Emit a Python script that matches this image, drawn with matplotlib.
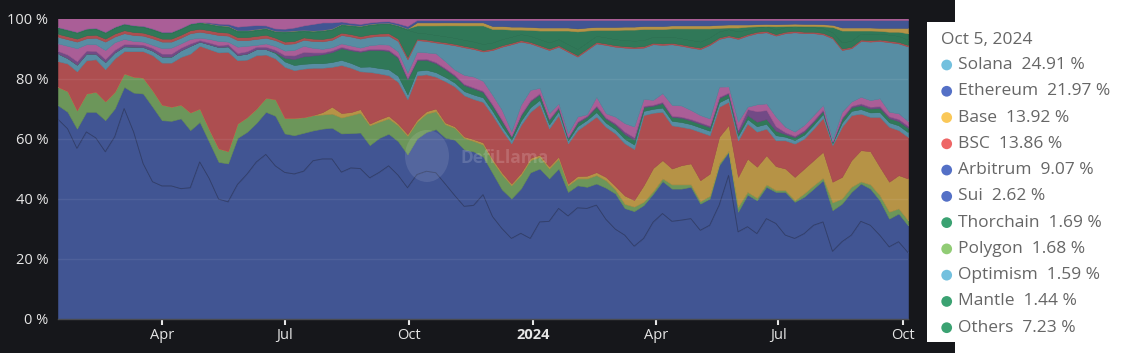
"""
DEX volume share by chain (100% stacked), DefiLlama style, dark theme.
"""

import numpy as np
import pandas as pd
import matplotlib
matplotlib.use("Agg")
import matplotlib.pyplot as plt
from matplotlib.colors import to_rgb
from matplotlib.patches import Rectangle, Ellipse

plt.rcParams["font.family"] = ["Open Sans", "DejaVu Sans"]

# ── Data: weekly share by chain (%), Jan 14 2023 -> Oct 5 2024 ────────
dates = pd.date_range("2023-01-14", periods=91, freq="7D")

ethereum = [66.4, 63.3, 56.7, 62.2, 60.2, 55.6, 60.6, 70.0, 62.2, 51.7,
            45.6, 44.2, 44.2, 43.3, 43.6, 52.2, 46.7, 39.8, 38.9, 44.7,
            48.1, 52.2, 54.7, 50.9, 48.7, 48.2, 49.1, 52.6, 53.2, 53.2,
            48.8, 50.2, 50.0, 46.9, 48.7, 50.9, 47.8, 43.6, 48.0, 49.1,
            48.6, 45.3, 41.3, 37.4, 37.8, 41.3, 34.0, 30.0, 26.7, 28.4,
            26.7, 32.2, 32.4, 36.7, 34.2, 36.9, 36.7, 37.8, 33.1, 29.8,
            27.8, 24.1, 26.7, 32.2, 35.0, 32.4, 32.8, 33.3, 29.4, 31.1,
            37.8, 47.8, 28.9, 30.6, 28.3, 33.3, 31.7, 27.8, 26.7, 28.3,
            31.1, 32.2, 22.4, 25.6, 27.8, 32.4, 31.1, 27.8, 23.9, 25.6,
            21.97]
arbitrum = [4.7, 5.6, 6.6, 6.7, 8.7, 10.5, 9.4, 7.2, 13.1, 23.3,
            25.0, 21.9, 21.7, 23.4, 19.2, 13.3, 12.2, 12.4, 12.8, 15.5,
            14.1, 13.0, 14.2, 16.7, 13.0, 12.9, 12.8, 10.1, 10.1, 10.4,
            12.9, 11.6, 12.0, 10.9, 11.5, 10.7, 11.3, 11.1, 12.0, 13.1,
            14.5, 15.6, 18.7, 19.0, 18.0, 12.7, 14.5, 13.0, 13.3, 14.9,
            22.0, 17.8, 14.3, 13.3, 8.0, 7.5, 7.2, 7.2, 10.5, 11.9,
            9.0, 11.7, 11.1, 9.5, 10.8, 10.9, 10.5, 10.6, 8.9, 8.9,
            13.3, 7.8, 6.7, 10.7, 11.1, 10.6, 10.5, 14.4, 12.2, 12.3,
            12.2, 13.9, 13.7, 12.7, 14.4, 12.6, 12.2, 11.6, 9.4, 9.4,
            9.07]
polygon = [6.1, 6.9, 6.1, 6.1, 6.7, 6.3, 5.6, 4.5, 5.3, 5.3,
           5.5, 5.2, 4.7, 4.6, 5.9, 4.5, 4.2, 4.5, 4.1, 4.8,
           4.9, 4.8, 4.7, 5.5, 5.2, 5.8, 5.2, 5.1, 4.7, 4.7,
           5.3, 6.0, 6.6, 6.6, 5.4, 5.1, 5.3, 6.2, 5.6, 6.1,
           6.0, 4.5, 4.0, 3.8, 3.5, 4.0, 4.0, 5.0, 4.4, 4.5,
           4.1, 3.9, 3.3, 3.3, 2.2, 2.3, 2.8, 2.8, 2.5, 1.3,
           1.4, 1.5, 1.1, 0.8, 0.9, 1.4, 1.4, 0.8, 0.8, 0.9,
           0.6, 0.4, 1.6, 0.9, 0.8, 0.8, 0.6, 0.6, 0.5, 1.1,
           1.1, 0.8, 2.6, 1.7, 1.7, 0.7, 1.4, 1.7, 2.3, 1.7,
           1.68]
base = [0, 0, 0, 0, 0, 0, 0, 0, 0, 0,
        0, 0, 0, 0, 0, 0, 0, 0, 0, 0,
        0, 0, 0, 0, 0, 0, 0, 0, 0.8, 2.3,
        1.5, 1.0, 1.2, 0.6, 0.8, 0.9, 0.6, 0.6, 0.7, 0.8,
        0.9, 0.6, 0.5, 0.5, 0.6, 0.7, 0.7, 0.7, 0.6, 0.7,
        0.7, 0.7, 0.7, 0.7, 0.6, 0.8, 0.9, 1.0, 1.1, 1.2,
        2.8, 2.2, 5.5, 7.8, 6.1, 5.3, 6.4, 7.0, 7.0, 7.4,
        8.9, 8.6, 10.0, 11.1, 10.4, 9.7, 8.0, 7.2, 7.8, 8.3,
        8.4, 8.7, 6.9, 7.2, 8.9, 10.4, 11.1, 9.5, 10.0, 11.1,
        13.92]
bsc = [8.6, 9.2, 13.0, 11.1, 10.8, 10.7, 11.1, 7.4, 8.5, 8.8,
       11.7, 14.0, 14.7, 15.9, 19.6, 20.9, 26.7, 32.0, 33.1, 21.1,
       19.2, 17.8, 14.4, 13.6, 17.0, 15.9, 16.2, 15.8, 14.8, 13.3,
       16.0, 14.8, 12.6, 17.2, 15.3, 13.5, 13.9, 11.6, 14.8, 12.3,
       10.6, 13.9, 13.4, 13.7, 13.4, 13.5, 14.6, 14.1, 13.4, 16.0,
       15.4, 16.8, 12.7, 13.8, 13.4, 15.3, 17.4, 18.5, 16.7, 17.5,
       17.4, 17.0, 23.4, 18.5, 16.1, 14.4, 12.8, 11.6, 16.1, 12.8,
       10.0, 7.8, 12.2, 11.7, 11.7, 8.9, 8.6, 9.4, 11.1, 10.0,
       10.5, 11.3, 12.2, 16.7, 15.0, 12.2, 11.4, 16.6, 18.3, 15.0,
       13.86]
optimism = [2.5, 1.8, 2.2, 2.2, 1.8, 2.4, 2.0, 1.6, 1.5, 1.4,
            1.5, 2.0, 2.0, 2.2, 2.6, 1.4, 1.6, 1.8, 1.8, 1.7,
            2.0, 2.0, 1.8, 1.8, 1.8, 1.7, 1.6, 1.5, 1.5, 1.6,
            1.7, 1.6, 1.5, 1.8, 1.8, 2.0, 2.0, 1.6, 1.5, 1.5,
            1.5, 1.4, 1.3, 1.4, 1.5, 1.5, 1.4, 1.3, 1.2, 1.4,
            1.5, 1.5, 1.3, 1.4, 1.0, 1.3, 1.2, 1.5, 1.4, 1.4,
            1.5, 1.5, 1.4, 1.3, 1.4, 1.5, 1.6, 1.5, 1.5, 1.5,
            1.5, 1.4, 1.5, 1.5, 1.8, 1.6, 1.7, 1.2, 1.2, 1.3,
            1.3, 1.3, 0.6, 1.4, 1.4, 1.5, 1.5, 1.6, 1.5, 1.6,
            1.59]
mantle = [0, 0, 0, 0, 0, 0, 0, 0, 0, 0,
          0, 0, 0, 0, 0, 0, 0, 0, 0, 0,
          0, 0, 0, 0.3, 1.2, 2.0, 2.5, 2.6, 3.0, 3.3,
          3.9, 4.2, 5.0, 5.5, 6.0, 6.1, 6.0, 5.0, 3.5, 3.3,
          3.0, 2.6, 2.2, 2.0, 2.0, 1.8, 1.8, 1.8, 1.0, 1.8,
          2.0, 1.8, 1.5, 1.0, 0.8, 1.2, 1.0, 1.8, 1.3, 1.5,
          1.6, 1.6, 1.3, 1.0, 1.5, 1.3, 1.4, 1.2, 1.2, 1.2,
          1.4, 1.3, 1.0, 1.3, 1.5, 1.6, 1.5, 0.9, 0.9, 1.0,
          1.0, 1.0, 0.4, 1.2, 1.2, 1.3, 1.3, 1.4, 1.4, 1.4,
          1.44]
others_violet = [0.9, 1.2, 1.2, 1.0, 1.0, 1.0, 0.9, 0.8, 0.8, 0.8,
                 0.9, 1.0, 1.0, 0.9, 0.8, 0.5, 0.6, 0.6, 0.7, 0.7,
                 0.8, 0.8, 0.8, 0.8, 0.9, 1.2, 1.5, 1.0, 0.6, 0.6,
                 0.5, 0.4, 0.4, 0.4, 0.4, 0.4, 0.4, 0.5, 0.4, 0.4,
                 0.4, 0.4, 0.4, 0.4, 0.4, 0.4, 0.4, 0.4, 0.3, 0.4,
                 0.4, 0.4, 0.4, 0.4, 0.3, 0.4, 0.4, 0.4, 0.4, 0.5,
                 0.8, 0.8, 0.4, 0.4, 0.4, 0.4, 0.4, 0.5, 0.5, 0.5,
                 0.4, 0.4, 1.0, 2.0, 3.5, 3.0, 1.5, 0.6, 0.5, 0.5,
                 0.5, 0.5, 0.3, 0.5, 0.5, 0.6, 0.6, 0.6, 0.6, 0.7,
                 0.7]
others_pink = [2.5, 2.9, 4.3, 2.1, 2.2, 3.0, 2.5, 1.7, 1.1, 1.0,
               1.0, 1.8, 2.0, 1.4, 1.5, 0.8, 1.2, 1.4, 0.9, 2.1,
               1.8, 0.6, 1.1, 1.2, 1.5, 1.8, 2.0, 1.5, 1.2, 1.0,
               1.1, 1.2, 1.0, 1.2, 1.5, 1.7, 1.7, 1.7, 2.4, 2.1,
               2.9, 2.3, 1.7, 3.0, 3.6, 3.3, 3.1, 3.2, 1.4, 3.1,
               3.4, 1.8, 1.8, 1.1, 1.2, 1.6, 0.5, 2.9, 1.4, 2.2,
               2.8, 3.6, 2.3, 1.6, 2.9, 3.6, 3.7, 3.0, 2.4, 2.4,
               3.4, 2.0, 2.7, 0.8, 2.3, 2.2, 3.2, 1.8, 1.4, 1.7,
               1.7, 1.5, 0.4, 1.9, 1.4, 2.2, 2.2, 2.6, 1.5, 1.9,
               1.53]
solana = [2.2, 2.2, 2.2, 2.0, 2.2, 2.8, 1.9, 1.9, 2.0, 2.0,
          2.2, 2.2, 2.0, 1.9, 1.9, 2.0, 1.9, 2.0, 2.0, 2.2,
          1.9, 2.0, 1.9, 2.0, 2.2, 2.2, 2.0, 2.3, 2.5, 2.5,
          2.8, 3.0, 3.0, 2.8, 2.8, 3.0, 3.5, 4.5, 3.9, 3.8,
          3.6, 5.9, 8.2, 9.2, 9.2, 9.8, 15.0, 21.1, 29.1, 21.1,
          15.5, 13.7, 21.1, 18.9, 27.2, 20.0, 21.4, 17.8, 22.8, 23.3,
          25.2, 26.1, 17.1, 18.6, 16.1, 20.2, 19.9, 20.8, 22.0, 24.5,
          15.9, 16.6, 27.6, 23.7, 23.7, 23.7, 27.0, 31.2, 33.1, 30.6,
          27.3, 23.5, 33.9, 20.6, 17.8, 18.6, 19.5, 19.1, 23.2, 23.3,
          24.91]
others_red = [1.0, 1.0, 1.0, 1.0, 1.0, 1.0, 1.0, 1.0, 1.0, 1.0,
              1.0, 1.0, 1.0, 1.0, 1.0, 1.0, 1.0, 1.0, 1.0, 1.0,
              1.0, 1.0, 1.0, 0.8, 0.8, 0.8, 0.8, 0.8, 0.8, 0.8,
              0.8, 0.8, 0.8, 0.8, 0.8, 0.8, 0.8, 0.8, 0.5, 0.5,
              0.5, 0.5, 0.5, 0.5, 0.5, 0.5, 0.5, 0.5, 0.5, 0.5,
              0.5, 0.5, 0.5, 0.5, 0.5, 0.5, 0.5, 0.5, 0.5, 0.5,
              0.5, 0.5, 0.5, 0.5, 0.5, 0.5, 0.5, 0.5, 0.5, 0.5,
              0.5, 0.5, 0.5, 0.5, 0.5, 0.5, 0.5, 0.5, 0.5, 0.5,
              0.5, 0.5, 0.5, 0.5, 0.5, 0.5, 0.5, 0.5, 0.5, 0.5,
              0.5]
thorchain = [1.8, 1.8, 1.8, 1.8, 1.8, 1.8, 1.8, 1.8, 1.8, 1.8,
             1.8, 1.8, 1.8, 1.8, 1.8, 1.8, 1.8, 1.8, 1.8, 1.8,
             1.8, 1.8, 1.8, 1.8, 3.0, 3.0, 2.0, 2.2, 2.5, 2.5,
             2.4, 2.6, 3.0, 3.0, 3.0, 3.0, 4.0, 9.0, 2.0, 2.0,
             2.0, 2.0, 2.0, 2.0, 2.0, 2.0, 2.0, 2.0, 2.0, 2.0,
             2.0, 2.0, 2.0, 2.0, 2.0, 2.0, 2.0, 2.0, 2.0, 2.0,
             2.0, 2.0, 2.0, 2.0, 2.0, 2.0, 2.0, 2.0, 2.0, 2.0,
             2.0, 2.0, 2.0, 1.5, 1.5, 1.5, 1.5, 1.5, 1.5, 1.5,
             1.5, 1.5, 1.5, 2.0, 2.0, 2.0, 2.0, 2.0, 2.0, 2.0,
             1.69]
others_green = [0.5, 0.5, 0.5, 0.5, 0.5, 0.5, 0.5, 0.5, 0.5, 0.5,
                0.5, 0.5, 0.5, 0.5, 0.5, 0.5, 0.5, 0.5, 0.5, 0.5,
                0.5, 0.5, 0.5, 0.5, 0.5, 0.5, 0.5, 0.5, 0.5, 0.5,
                0.5, 0.5, 0.5, 0.5, 0.5, 0.5, 0.5, 0.5, 2.4, 2.7,
                3.2, 3.7, 4.2, 4.8, 5.4, 6.2, 4.5, 3.4, 2.4, 1.5,
                2.0, 2.9, 4.0, 2.9, 4.6, 5.9, 4.0, 2.0, 2.5, 3.1,
                3.5, 3.7, 3.7, 2.6, 2.8, 2.8, 3.3, 3.9, 4.4, 3.0,
                1.2, 0.6, 1.3, 1.0, 0.3, 0.1, 1.1, 0.4, 0.2, 0.4,
                0.4, 0.7, 1.8, 4.0, 3.4, 1.0, 1.2, 0.9, 1.0, 1.4,
                2.2]
others_yellow = [0, 0, 0, 0, 0, 0, 0, 0, 0, 0,
                 0, 0, 0, 0, 0, 0, 0, 0, 0, 0,
                 0, 0, 0, 0, 0, 0, 0, 0, 0, 0,
                 0, 0, 0, 0, 0, 0, 0, 0, 1.0, 1.0,
                 1.0, 1.0, 1.0, 1.0, 1.0, 1.0, 1.0, 1.0, 1.0, 1.0,
                 1.0, 1.0, 1.0, 1.0, 1.0, 1.0, 1.0, 1.0, 1.0, 1.0,
                 1.0, 1.0, 1.0, 1.0, 1.0, 1.0, 1.0, 1.0, 1.0, 1.0,
                 1.0, 1.0, 1.0, 0.7, 0.7, 0.7, 0.7, 0.7, 0.7, 0.7,
                 0.7, 0.7, 0.7, 1.0, 1.0, 1.0, 1.0, 1.0, 1.3, 1.3,
                 1.8]
sui = [0, 0, 0, 0, 0, 0, 0, 0, 0, 0,
       0, 0, 0, 0, 0, 0, 0.3, 0.5, 0.6, 1.2,
       1.5, 1.3, 0.8, 0.8, 0.8, 1.0, 1.5, 2.2, 2.5, 2.0,
       0.8, 0.6, 0.6, 0.5, 0.5, 0.5, 0.6, 0.8, 0.8, 0.8,
       0.8, 0.8, 0.8, 0.8, 0.8, 0.8, 2.0, 2.0, 2.2, 2.2,
       2.3, 2.5, 2.5, 2.5, 2.5, 2.8, 2.5, 2.3, 2.3, 2.3,
       2.2, 2.2, 2.0, 2.0, 2.0, 1.8, 1.8, 1.8, 1.8, 1.8,
       1.6, 1.5, 1.5, 1.5, 1.4, 1.3, 1.4, 1.3, 1.2, 1.3,
       1.3, 1.4, 1.6, 2.5, 2.5, 2.5, 2.5, 2.6, 2.6, 2.6,
       2.62]
others_top = [2.8, 3.6, 4.4, 3.3, 3.1, 4.4, 2.7, 1.6, 2.2, 2.4,
              3.3, 4.4, 4.4, 3.1, 1.6, 1.1, 1.3, 1.7, 1.8, 2.7,
              2.4, 2.2, 2.3, 3.3, 3.4, 3.0, 2.3, 1.8, 1.3, 1.3,
              1.0, 1.5, 1.8, 1.3, 1.0, 0.9, 1.6, 2.5, 0.5, 0.5,
              0.5, 0.5, 0.5, 0.5, 0.5, 0.5, 0.5, 0.5, 0.5, 0.5,
              0.5, 0.5, 0.5, 0.5, 0.5, 0.5, 0.5, 0.5, 0.5, 0.5,
              0.5, 0.5, 0.5, 0.5, 0.5, 0.5, 0.5, 0.5, 0.5, 0.5,
              0.5, 0.5, 0.5, 0.5, 0.5, 0.5, 0.5, 0.5, 0.5, 0.5,
              0.5, 0.5, 0.5, 0.5, 0.5, 0.5, 0.5, 0.5, 0.5, 0.5,
              0.5]

# Tooltip content (snapshot for the last date)
tooltip_title = "Oct 5, 2024"
tooltip_names = ["Solana", "Ethereum", "Base", "BSC", "Arbitrum", "Sui",
                 "Thorchain", "Polygon", "Optimism", "Mantle", "Others"]
tooltip_values = [24.91, 21.97, 13.92, 13.86, 9.07, 2.62, 1.69, 1.68, 1.59, 1.44, 7.23]
tooltip_colors = ["#73c0de", "#5470c6", "#fac858", "#ee6666", "#5470c6", "#5470c6",
                  "#3ba272", "#91cc75", "#73c0de", "#3ba272", "#3ba272"]

x_tick_dates = ["2023-04-01", "2023-07-01", "2023-10-01", "2024-01-01",
                "2024-04-01", "2024-07-01", "2024-10-01"]
x_tick_labels = ["Apr", "Jul", "Oct", "2024", "Apr", "Jul", "Oct"]
y_ticks = [0, 20, 40, 60, 80, 100]

# ── Style ─────────────────────────────────────────────────────────────
BG = "#16171b"
W, H = 1130, 353
AREA_ALPHA = 0.7

LAYERS = [
    (ethereum, "#5470c6"),
    (arbitrum, "#5470c6"),
    (polygon, "#91cc75"),
    (base, "#fac858"),
    (bsc, "#ee6666"),
    (optimism, "#73c0de"),
    (mantle, "#3ba272"),
    (others_violet, "#9a60b4"),
    (others_pink, "#ea7ccc"),
    (solana, "#73c0de"),
    (others_red, "#ee6666"),
    (thorchain, "#3ba272"),
    (others_green, "#3ba272"),
    (others_yellow, "#fac858"),
    (sui, "#5470c6"),
    (others_top, "#ea7ccc"),
]


def blend(color, alpha=AREA_ALPHA, bg=BG):
    """Flatten a translucent area colour over the dark background."""
    c = np.array(to_rgb(color))
    b = np.array(to_rgb(bg))
    return tuple(b + alpha * (c - b))


def main():
    fig = plt.figure(figsize=(W / 100, H / 100), dpi=100)
    fig.patch.set_facecolor("white")

    # dark page behind the chart (pixel coordinates)
    bg = fig.add_axes([0, 0, 1, 1], zorder=-1)
    bg.set_xlim(0, W)
    bg.set_ylim(H, 0)
    bg.axis("off")
    bg.add_patch(Rectangle((0, 0), 955, H, facecolor=BG, edgecolor="none"))

    # ── stacked 100% area ─────────────────────────────────────────
    ax = fig.add_axes([58 / W, 1 - 318.5 / H, 850 / W, 300 / H])
    ax.set_facecolor(BG)

    vals = np.array([v for v, _ in LAYERS], dtype=float)
    shares = vals / vals.sum(axis=0) * 100
    cols = [blend(c) for _, c in LAYERS]
    polys = ax.stackplot(dates, shares, colors=cols, linewidth=0.4)
    for p, c in zip(polys, cols):
        p.set_edgecolor(c)

    # Ethereum boundary line inside the blue block
    ax.plot(dates, shares[0], color="#323e68", linewidth=0.6)

    for y in y_ticks[1:-1]:
        ax.axhline(y, color="white", alpha=0.07, linewidth=1, zorder=3)

    ax.set_xlim(dates[0], dates[-1])
    ax.set_ylim(0, 100)

    ax.set_yticks(y_ticks)
    ax.set_yticklabels([f"{v} %" for v in y_ticks], color="#e6e6e6", fontsize=10.5)
    ax.tick_params(axis="y", length=0, pad=7)

    ax.set_xticks(pd.to_datetime(x_tick_dates))
    ax.set_xticklabels(x_tick_labels, color="#e6e6e6", fontsize=10.5)
    for lbl in ax.get_xticklabels():
        if lbl.get_text() == "2024":
            lbl.set_fontweight("bold")
    ax.tick_params(axis="x", length=4.5, width=1.5, color="#e6e6e6", pad=2.5)

    for side in ["top", "right", "left"]:
        ax.spines[side].set_visible(False)
    ax.spines["bottom"].set_color("#4a4b50")
    ax.spines["bottom"].set_linewidth(1)

    # ── overlay: watermark + tooltip (pixel coordinates) ─────────
    ov = fig.add_axes([0, 0, 1, 1], zorder=5)
    ov.set_xlim(0, W)
    ov.set_ylim(H, 0)
    ov.axis("off")
    ov.patch.set_visible(False)

    ov.add_patch(Ellipse((427, 156), 44, 52, facecolor="white", alpha=0.10,
                         edgecolor="none"))
    ov.text(505, 158, "DefiLlama", color="white", alpha=0.16, fontsize=12.5,
            fontweight="bold", ha="center", va="center")

    ov.add_patch(Rectangle((927, 22), 220, 320, facecolor="white",
                           edgecolor="none"))
    ov.text(941, 39.5, tooltip_title, color="#666666", fontsize=12.5,
            ha="left", va="center")
    row_y = 65.0
    for name, val, col in zip(tooltip_names, tooltip_values, tooltip_colors):
        ov.scatter([946.7], [row_y], s=60, color=col, edgecolors="none")
        ov.text(958.5, row_y, f"{name}  {val:.2f} %", color="#666666",
                fontsize=12.5, ha="left", va="center")
        row_y += 26.27

    fig.savefig("out.png", dpi=100, facecolor=fig.get_facecolor())
    plt.close(fig)


if __name__ == "__main__":
    main()
